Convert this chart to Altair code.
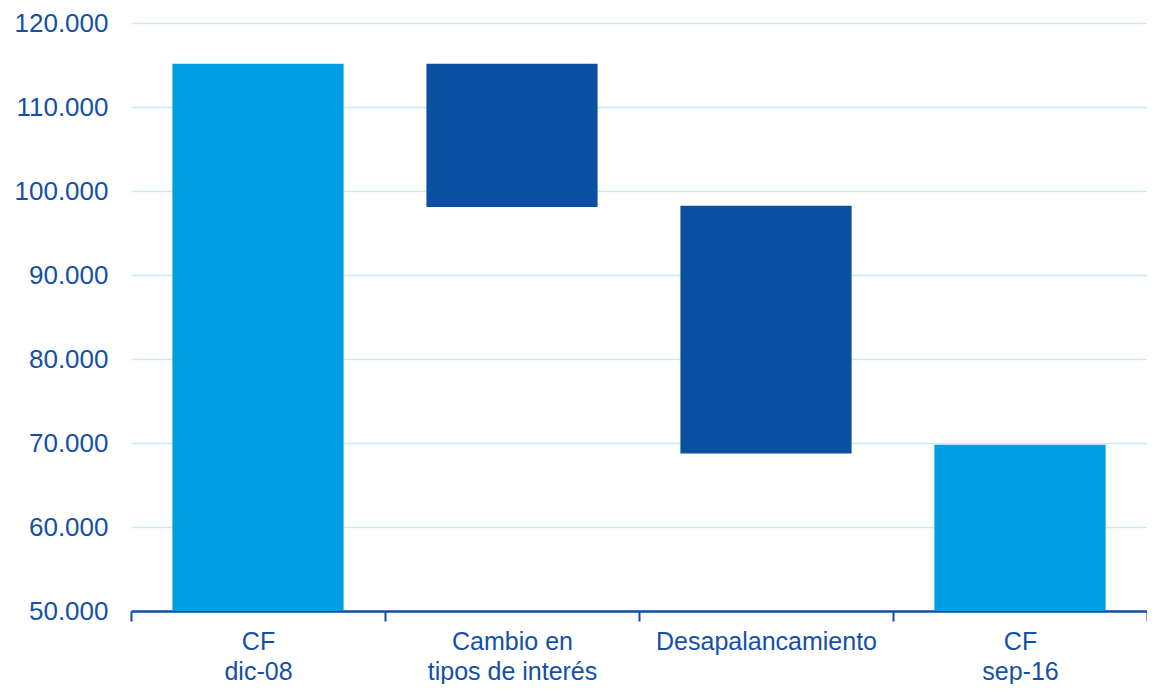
import altair as alt
import pandas as pd

categories = ["CF|dic-08", "Cambio en|tipos de interés", "Desapalancamiento", "CF|sep-16"]
bar_start = [50000, 115150, 98250, 50000]
bar_end = [115150, 98100, 68750, 69800]
bar_kind = ["total", "change", "change", "total"]

df = pd.DataFrame({"cat": categories, "start": bar_start, "end": bar_end, "kind": bar_kind})

label_color = "#1450A8"
font = "Liberation Sans"

chart = alt.Chart(df).mark_bar(width={"band": 0.674}).encode(
    x=alt.X("cat:N", sort=categories,
            scale=alt.Scale(paddingInner=0, paddingOuter=0),
            axis=alt.Axis(title=None, labelAngle=0, labelExpr="split(datum.label, '|')",
                          labelFont=font, labelFontSize=25, labelColor=label_color,
                          labelLineHeight=30, labelPadding=8, labelLimit=400,
                          domainColor="#0D4FA6", domainWidth=2.5,
                          tickColor="#0D4FA6", tickWidth=2, tickSize=10,
                          tickBand="extent", grid=False)),
    y=alt.Y("start:Q",
            scale=alt.Scale(domain=[50000, 120000], nice=False, zero=False),
            axis=alt.Axis(title=None, values=list(range(50000, 120001, 10000)),
                          labelExpr="replace(format(datum.value, ',.0f'), ',', '.')",
                          labelFont=font, labelFontSize=26, labelColor=label_color,
                          labelPadding=23, ticks=False, domain=False,
                          grid=True, gridColor="#C6EBFA", gridWidth=1.6)),
    y2="end:Q",
    color=alt.Color("kind:N", scale=alt.Scale(domain=["total", "change"],
                                              range=["#009FE3", "#0A50A1"]), legend=None),
).properties(
    width=1016, height=588,
    padding={"left": 123, "top": 15, "right": 0, "bottom": 73},
    autosize=alt.AutoSizeParams(type="none"),
).configure_view(stroke=None)

chart.save("out.html", embed_options={"renderer": "svg", "actions": False})
